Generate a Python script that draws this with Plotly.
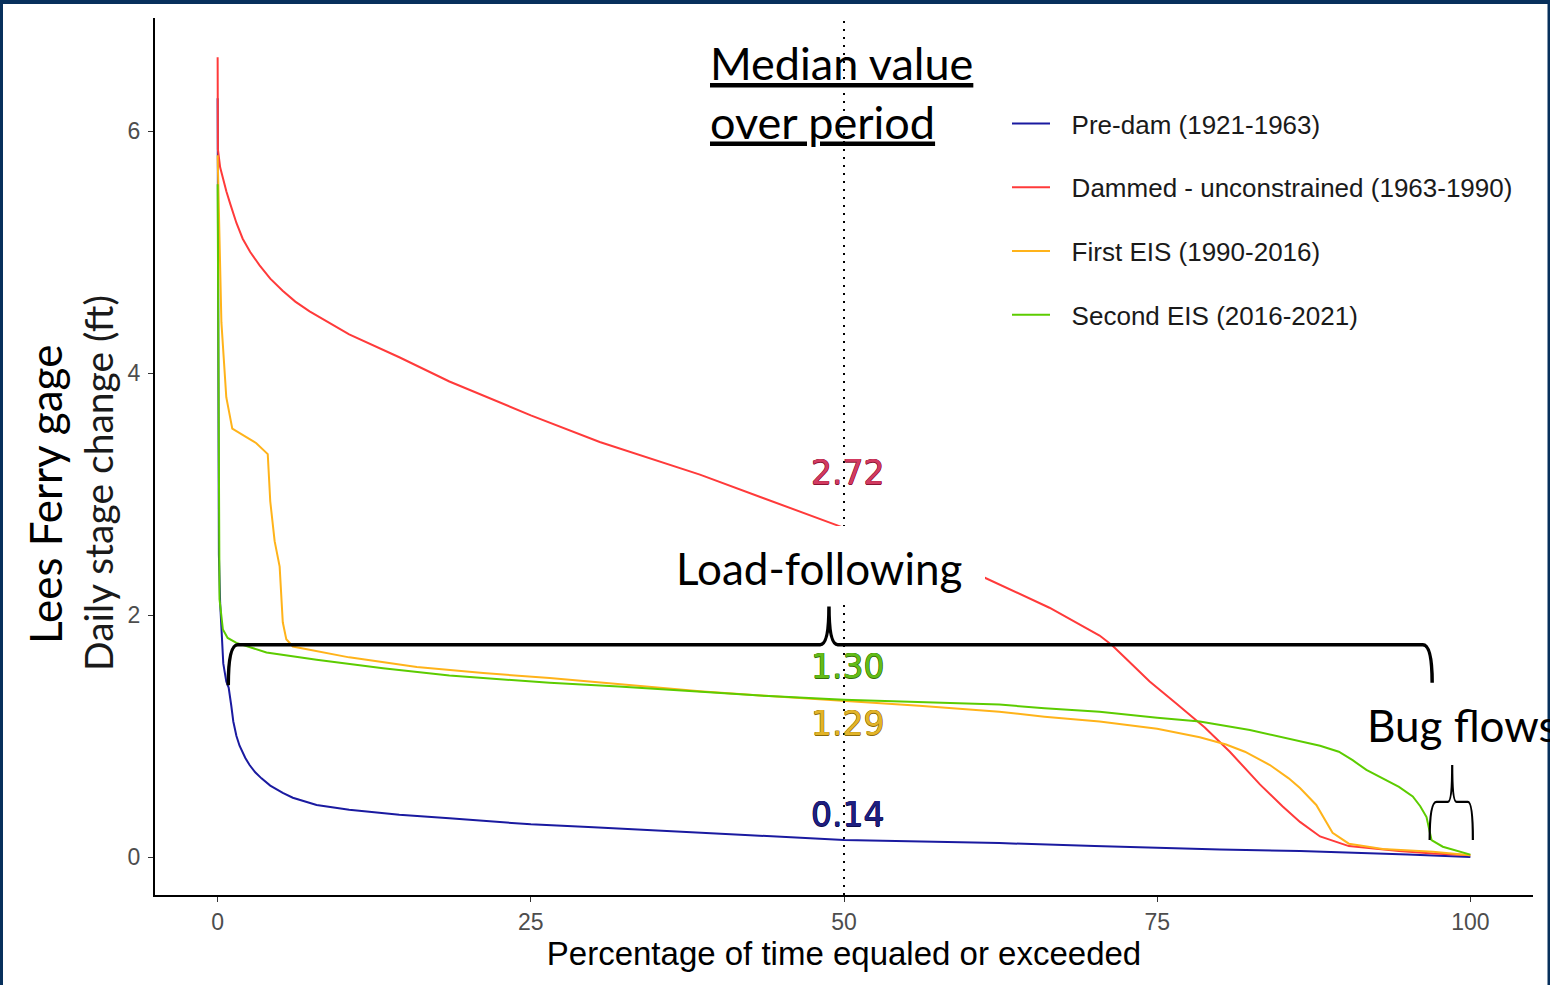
import plotly.graph_objects as go

# ---- flow-duration data: % of time equaled or exceeded vs daily stage change (ft)
predam_pct = [0, 0.02, 0.05, 0.1, 0.2, 0.3, 0.45, 0.69, 0.88, 1.09, 1.25, 1.5, 1.75,
              2.2, 2.55, 3.0, 3.5, 4.2, 5.2, 6.0, 7.9, 10.5, 14.5, 18.5, 25, 30, 34.5,
              42.5, 50, 56, 62.4, 70, 75, 80, 86.4, 90, 95, 100]
predam_val = [6.27, 4.5, 3.2, 2.5, 2.1, 1.85, 1.6, 1.45, 1.40, 1.25, 1.12, 1.0, 0.92,
              0.82, 0.76, 0.70, 0.65, 0.59, 0.53, 0.49, 0.43, 0.39, 0.35, 0.32, 0.27,
              0.245, 0.22, 0.18, 0.14, 0.13, 0.115, 0.09, 0.075, 0.062, 0.05, 0.04,
              0.02, 0.0]

dammed_pct = [0, 0.02, 0.2, 0.42, 0.7, 1.0, 1.5, 2.0, 2.6, 3.35, 4.2, 5.19, 6.2, 7.34,
              8.8, 10.5, 14.5, 18.5, 25, 30.5, 38.5, 44, 50, 61.2, 66.4, 70.4, 71.4,
              72.5, 74.4, 76.5, 78.8, 80.8, 83.2, 85, 86.4, 88, 90.3, 94.3, 97, 100]
dammed_val = [6.61, 5.85, 5.70, 5.60, 5.50, 5.40, 5.24, 5.11, 5.00, 4.89, 4.78, 4.68,
              4.59, 4.51, 4.42, 4.32, 4.13, 3.93, 3.65, 3.43, 3.16, 2.95, 2.72, 2.31,
              2.06, 1.83, 1.75, 1.64, 1.45, 1.27, 1.07, 0.87, 0.60, 0.42, 0.29, 0.17,
              0.09, 0.05, 0.03, 0.015]

eis1_pct = [0, 0.16, 0.3, 0.69, 1.17, 2.29, 3.09, 4.0, 4.2, 4.55, 4.95, 5.2, 5.48, 6.0,
            8.0, 10.5, 15.9, 21.2, 26.5, 32, 38.5, 44, 50, 56, 62.4, 66, 70.4, 75,
            78.4, 80.5, 82, 84, 85.5, 86.4, 87.7, 89, 90.3, 93, 97, 100]
eis1_val = [5.80, 5.18, 4.42, 3.80, 3.54, 3.47, 3.42, 3.33, 2.94, 2.61, 2.40, 1.94,
            1.80, 1.74, 1.70, 1.65, 1.57, 1.52, 1.48, 1.43, 1.37, 1.33, 1.29, 1.25,
            1.20, 1.16, 1.12, 1.06, 0.99, 0.93, 0.87, 0.76, 0.65, 0.57, 0.43, 0.20,
            0.11, 0.066, 0.044, 0.015]

eis2_pct = [0, 0.05, 0.1, 0.15, 0.42, 0.8, 1.5, 3.9, 7.9, 13.2, 18.5, 26.5, 32, 38.5,
            44, 50, 56, 62.4, 66, 70.4, 75, 78.4, 82.4, 86.4, 88, 89.5, 90.6, 91.7,
            93, 94.3, 95.4, 96.0, 96.5, 96.9, 97.8, 98.9, 100]
eis2_val = [5.56, 4.2, 3.0, 2.13, 1.88, 1.81, 1.77, 1.69, 1.63, 1.56, 1.50, 1.44, 1.41,
            1.37, 1.33, 1.30, 1.28, 1.26, 1.23, 1.20, 1.15, 1.12, 1.05, 0.96, 0.92,
            0.87, 0.80, 0.72, 0.65, 0.58, 0.50, 0.42, 0.33, 0.14, 0.085, 0.05, 0.02]

series_names = ["Pre-dam (1921-1963)", "Dammed - unconstrained (1963-1990)",
                "First EIS (1990-2016)", "Second EIS (2016-2021)"]
series_colors = ["#1a1aa0", "#ff3a3a", "#ffb31a", "#5ccc00"]

median_pct = 50
median_vals = [0.14, 2.72, 1.29, 1.30]
median_label_colors = ["#1f1f80", "#d23a60", "#e2b428", "#62bc18"]
median_label_outline = ["#0e0e50", "#8a1434", "#8a6a0a", "#356e0a"]
median_label_shift = [26, 55, -23, 33]

# ---- plot-area geometry (pixels) and helpers to place paper-relative items
L, R, T, B = 155, 1533, 18, 895
W, H = R - L, B - T


def fx(p):
    return (p - L) / W


def fy(p):
    return (B - p) / H


fig = go.Figure()
all_x = [predam_pct, dammed_pct, eis1_pct, eis2_pct]
all_y = [predam_val, dammed_val, eis1_val, eis2_val]
pad = "\u00a0\u00a0\u200a"
for i in range(4):
    fig.add_trace(go.Scatter(
        x=all_x[i], y=all_y[i], mode="lines", name=pad + series_names[i],
        legendgroup=f"g{i}",
        line=dict(color=series_colors[i], width=2),
    ))

shapes = []
# median reference line
shapes.append(dict(type="line", xref="x", yref="paper", x0=median_pct, x1=median_pct,
                   y0=0, y1=1, layer="above",
                   line=dict(color="black", width=2, dash="2px,6px")))
# white panel behind the "Load-following" caption
shapes.append(dict(type="rect", xref="paper", yref="paper",
                   x0=fx(664), x1=fx(985), y0=fy(605), y1=fy(526), layer="above",
                   fillcolor="white", line=dict(width=0)))
# Load-following brace
shapes.append(dict(
    type="path", xref="x", yref="y", layer="above",
    path=("M 0.85,1.42 Q 0.85,1.755 1.6,1.755 L 48.1,1.755 "
          "Q 48.8,1.755 48.8,2.07 Q 48.8,1.755 49.5,1.755 L 96.2,1.755 "
          "Q 96.95,1.755 96.95,1.44"),
    line=dict(color="black", width=3.5)))
# Bug-flows brace
shapes.append(dict(
    type="path", xref="x", yref="y", layer="above",
    path=("M 96.75,0.14 Q 96.75,0.455 97.3,0.455 L 98.2,0.455 "
          "Q 98.55,0.455 98.55,0.76 Q 98.55,0.455 98.9,0.455 L 99.8,0.455 "
          "Q 100.2,0.455 100.2,0.14"),
    line=dict(color="black", width=2.2)))
# slide frame
navy = "#07305c"
shapes.append(dict(type="rect", xref="paper", yref="paper", x0=fx(0), x1=fx(1550),
                   y0=fy(4), y1=fy(-2), fillcolor=navy, line=dict(width=0), layer="above"))
shapes.append(dict(type="rect", xref="paper", yref="paper", x0=fx(-2), x1=fx(3),
                   y0=fy(990), y1=fy(0), fillcolor=navy, line=dict(width=0), layer="above"))
shapes.append(dict(type="rect", xref="paper", yref="paper", x0=fx(1547.5), x1=fx(1552),
                   y0=fy(990), y1=fy(0), fillcolor=navy, line=dict(width=0), layer="above"))

annotations = []
for i in range(4):
    oc = median_label_outline[i]
    annotations.append(dict(
        x=median_pct + 0.25, y=median_vals[i], xref="x", yref="y",
        yshift=median_label_shift[i], text=f"{median_vals[i]:.2f}", showarrow=False,
        xanchor="center", yanchor="middle",
        font=dict(family="DejaVu Sans", size=33, color=median_label_colors[i],
                  shadow=f"0.5px 0 {oc}, -0.5px 0 {oc}, 0 0.5px {oc}, 0 -0.5px {oc}"),
    ))

callout_font = dict(family="Lato", size=44, color="black")
annotations.append(dict(
    x=fx(708), y=fy(92), xref="paper", yref="paper", xanchor="left", yanchor="middle",
    align="left", showarrow=False, text="Median value<br>over period",
    font=dict(family="Lato", size=45, color="black", lineposition="under")))
annotations.append(dict(
    x=fx(819), y=fy(568), xref="paper", yref="paper", xanchor="center",
    yanchor="middle", showarrow=False, text="Load-following", font=callout_font))
annotations.append(dict(
    x=fx(1365), y=fy(725), xref="paper", yref="paper", xanchor="left",
    yanchor="middle", showarrow=False, text="Bug flows", font=callout_font))
# two-line y-axis title
annotations.append(dict(
    x=fx(45), y=fy(495), xref="paper", yref="paper", xanchor="center",
    yanchor="middle", showarrow=False, textangle=-90, text="Lees Ferry gage",
    font=dict(family="Lato", size=44, color="black")))
annotations.append(dict(
    x=fx(98), y=fy(483), xref="paper", yref="paper", xanchor="center",
    yanchor="middle", showarrow=False, textangle=-90, text="Daily stage change (ft)",
    font=dict(family="Lato", size=39, color="#1a1a1a")))

fig.update_layout(
    width=1550, height=985,
    margin=dict(l=L, r=1550 - R, t=T, b=985 - B, pad=0),
    paper_bgcolor="white", plot_bgcolor="white",
    showlegend=True,
    legend=dict(
        x=fx(1007), y=fy(100), xanchor="left", yanchor="top",
        bgcolor="rgba(0,0,0,0)", borderwidth=0, tracegroupgap=27,
        itemwidth=38, traceorder="grouped",
        font=dict(family="Liberation Sans", size=26, color="#1a1a1a"),
    ),
    xaxis=dict(
        range=[-5, 105], tickvals=[0, 25, 50, 75, 100], showgrid=False, zeroline=False,
        showline=True, linecolor="black", linewidth=2,
        ticks="outside", ticklen=5, tickwidth=1, tickcolor="#333333",
        ticklabelstandoff=0,
        tickfont=dict(family="Liberation Sans", size=23, color="#4d4d4d"),
        title=dict(text="Percentage of time equaled or exceeded", standoff=8,
                   font=dict(family="Liberation Sans", size=33, color="black")),
    ),
    yaxis=dict(
        range=[-0.314, 6.934], tickvals=[0, 2, 4, 6], showgrid=False, zeroline=False,
        showline=True, linecolor="black", linewidth=2,
        ticks="outside", ticklen=5, tickwidth=1, tickcolor="#333333",
        ticklabelstandoff=3,
        tickfont=dict(family="Liberation Sans", size=23, color="#4d4d4d"),
    ),
    shapes=shapes,
    annotations=annotations,
)

fig.write_html("out.html")
